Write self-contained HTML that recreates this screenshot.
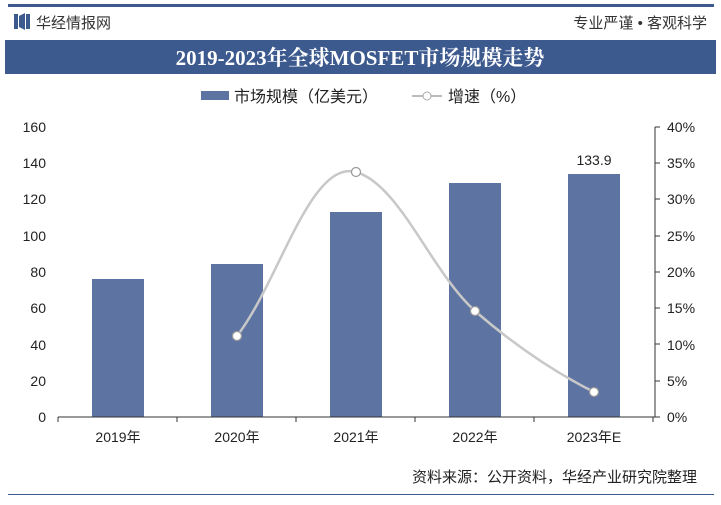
<!DOCTYPE html>
<html><head><meta charset="utf-8"><style>
body{margin:0;width:721px;height:500px;background:#fff;overflow:hidden;font-family:"Liberation Sans","Noto Sans CJK SC",sans-serif;}
</style></head><body>
<svg width="721" height="500" xmlns="http://www.w3.org/2000/svg" font-family="Liberation Sans, Noto Sans CJK SC, sans-serif">
<rect x="8" y="4" width="706" height="3" fill="#3d5a8f"/>
<rect x="14" y="14" width="4" height="15" fill="#3d5a8f"/><polygon points="19,16 25,13 25,30 19,27" fill="#3d5a8f"/><rect x="26" y="14" width="4" height="15" fill="#3d5a8f"/>
<text x="36" y="28" font-size="15" fill="#333">华经情报网</text>
<text x="707" y="28" font-size="15" fill="#333" text-anchor="end">专业严谨 • 客观科学</text>
<rect x="5" y="40" width="711" height="34" fill="#3d5a8f"/>
<text x="360" y="65" font-size="21" font-weight="bold" fill="#fff" text-anchor="middle" font-family="Liberation Serif, Noto Serif CJK SC, serif">2019-2023年全球MOSFET市场规模走势</text>
<rect x="201" y="91" width="28" height="9" fill="#5d74a3"/>
<text x="234" y="102" font-size="16" fill="#222">市场规模（亿美元）</text>
<line x1="412" y1="96" x2="442" y2="96" stroke="#bbb" stroke-width="2"/><circle cx="427" cy="96" r="4" fill="#fff" stroke="#aaa"/>
<text x="448" y="102" font-size="16" fill="#222">增速（%）</text>
<g font-size="14" fill="#222" text-anchor="end">
<text x="46" y="422">0</text><text x="46" y="386">20</text><text x="46" y="350">40</text><text x="46" y="313">60</text><text x="46" y="277">80</text><text x="46" y="241">100</text><text x="46" y="204">120</text><text x="46" y="168">140</text><text x="46" y="132">160</text>
</g>
<g font-size="14" fill="#222">
<text x="667" y="422">0%</text><text x="667" y="386">5%</text><text x="667" y="350">10%</text><text x="667" y="313">15%</text><text x="667" y="277">20%</text><text x="667" y="241">25%</text><text x="667" y="204">30%</text><text x="667" y="168">35%</text><text x="667" y="132">40%</text>
</g>
<line x1="655" y1="127" x2="655" y2="417" stroke="#333"/>
<g stroke="#333"><line x1="655" y1="127" x2="660" y2="127"/><line x1="655" y1="163" x2="660" y2="163"/><line x1="655" y1="199" x2="660" y2="199"/><line x1="655" y1="236" x2="660" y2="236"/><line x1="655" y1="272" x2="660" y2="272"/><line x1="655" y1="308" x2="660" y2="308"/><line x1="655" y1="344" x2="660" y2="344"/><line x1="655" y1="381" x2="660" y2="381"/><line x1="655" y1="417" x2="660" y2="417"/></g>
<g fill="#5d74a3">
<rect x="92" y="279" width="52" height="138"/>
<rect x="211" y="264" width="52" height="153"/>
<rect x="330" y="212" width="52" height="205"/>
<rect x="449" y="183" width="52" height="234"/>
<rect x="568" y="174" width="52" height="243"/>
</g>
<line x1="58" y1="417" x2="655" y2="417" stroke="#333"/>
<g stroke="#333"><line x1="58" y1="417" x2="58" y2="422"/><line x1="177" y1="417" x2="177" y2="422"/><line x1="296" y1="417" x2="296" y2="422"/><line x1="415" y1="417" x2="415" y2="422"/><line x1="534" y1="417" x2="534" y2="422"/><line x1="653" y1="417" x2="653" y2="422"/></g>
<g font-size="14" fill="#222" text-anchor="middle">
<text x="118" y="442">2019年</text><text x="237" y="442">2020年</text><text x="356" y="442">2021年</text><text x="475" y="442">2022年</text><text x="594" y="442">2023年E</text>
</g>
<text x="594" y="165" font-size="14" fill="#222" text-anchor="middle">133.9</text>
<path d="M237,336 C280,280 310,160 356,172 C400,185 430,270 475,311 C520,350 560,375 594,392" fill="none" stroke="#c8c8c8" stroke-width="2.5"/>
<g fill="#fff" stroke="#999" stroke-width="1.2"><circle cx="237" cy="336" r="4.5"/><circle cx="356" cy="172" r="4.5"/><circle cx="475" cy="311" r="4.5"/><circle cx="594" cy="392" r="4.5"/></g>
<text x="697" y="482" font-size="15" fill="#222" text-anchor="end">资料来源：公开资料，华经产业研究院整理</text>
<rect x="8" y="494" width="706" height="1" fill="#3d5a8f"/>
</svg>
</body></html>
